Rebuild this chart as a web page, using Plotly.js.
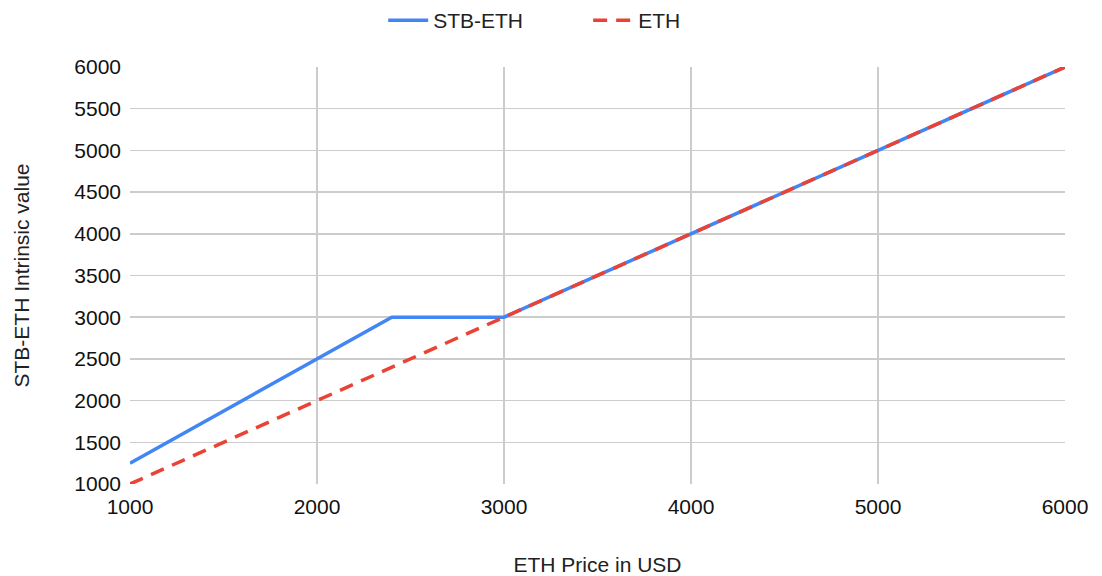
<!DOCTYPE html>
<html>
<head>
<meta charset="utf-8">
<script src="https://cdn.plot.ly/plotly-3.0.1.min.js"></script>
<style>html,body{margin:0;padding:0;background:#fff;}#chart{width:1102px;height:576px;}</style>
</head>
<body>
<div id="chart"></div>
<script>
const stbX = [1000, 2400, 3000, 4000, 5000, 6000];
const stbY = [1250, 3000, 3000, 4000, 5000, 6000];
const ethX = [1000, 2000, 3000, 4000, 5000, 6000];
const ethY = [1000, 2000, 3000, 4000, 5000, 6000];
const xTicks = [1000, 2000, 3000, 4000, 5000, 6000];
const yTicks = [1000, 1500, 2000, 2500, 3000, 3500, 4000, 4500, 5000, 5500, 6000];

const traces = [
  {x: stbX, y: stbY, name: 'STB-ETH', mode: 'lines', line: {color: '#4285f4', width: 3.5}},
  {x: ethX, y: ethY, name: 'ETH', mode: 'lines', line: {color: '#ea4335', width: 3.5, dash: '14px,9px'}}
];
const layout = {
  width: 1102, height: 576,
  margin: {l: 130, r: 37, t: 67, b: 92},
  paper_bgcolor: '#fff', plot_bgcolor: '#fff',
  font: {family: 'Arial, Liberation Sans, sans-serif', size: 21, color: '#111'},
  showlegend: true,
  legend: {orientation: 'h', x: 0.49, xanchor: 'center', y: 1, yref: 'container', yanchor: 'top', font: {size: 21, color: '#222'}, entrywidth: 150, itemwidth: 40},
  xaxis: {range: [1000, 6000], tickvals: xTicks, ticktext: xTicks.map(String), showgrid: true, gridcolor: '#cccccc', gridwidth: 1.5, zeroline: false, showline: false, ticks: '', ticklabelstandoff: 8,
    tickfont: {size: 21, color: '#111'},
    title: {text: 'ETH Price in USD', font: {size: 21, color: '#222'}, standoff: 45}, automargin: false},
  yaxis: {range: [1000, 6000], tickvals: yTicks, ticktext: yTicks.map(String), showgrid: true, gridcolor: '#cccccc', gridwidth: 1.5, zeroline: false, showline: false, ticks: '', ticklabelstandoff: 8,
    tickfont: {size: 21, color: '#111'},
    title: {text: 'STB-ETH Intrinsic value', font: {size: 21, color: '#222'}, standoff: 38}, automargin: false}
};
Plotly.newPlot('chart', traces, layout, {displayModeBar: false, staticPlot: true});
</script>
</body>
</html>
